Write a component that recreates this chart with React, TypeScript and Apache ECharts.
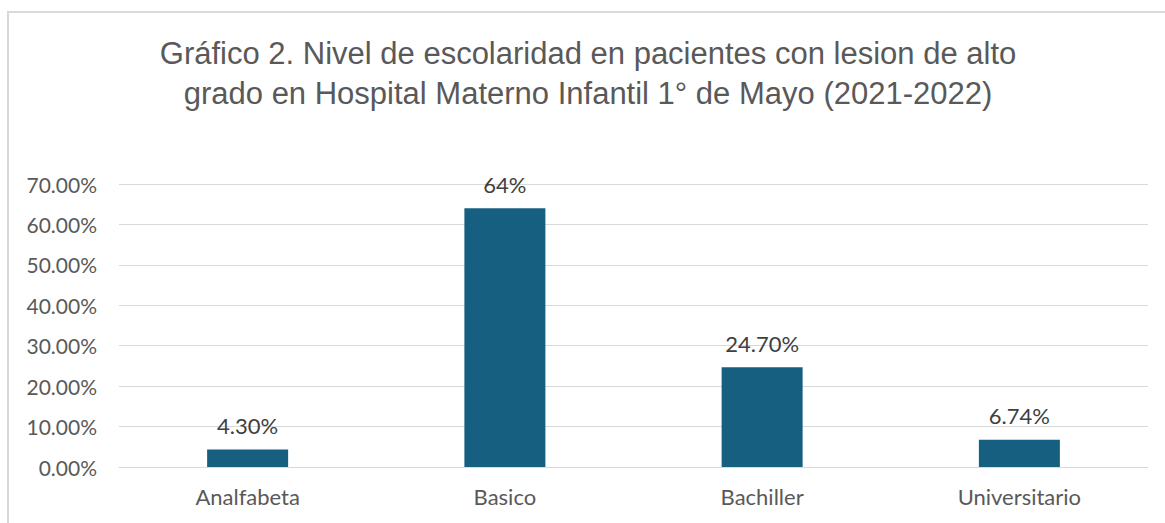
import React, { useEffect, useRef } from "react";
import * as echarts from "echarts";

const titleLines = [
  "Gráfico 2. Nivel de escolaridad en pacientes con lesion de alto",
  "grado en Hospital Materno Infantil 1° de Mayo (2021-2022)",
];
const categories = ["Analfabeta", "Basico", "Bachiller", "Universitario"];
const values = [4.3, 64, 24.7, 6.74];
const valueLabels = ["4.30%", "64%", "24.70%", "6.74%"];

export default function App() {
  const ref = useRef<HTMLDivElement>(null);
  useEffect(() => {
    if (!ref.current) return;
    const chart = echarts.init(ref.current, null, { renderer: "svg" });
    chart.setOption({
      animation: false,
      backgroundColor: "#ffffff",
      title: {
        text: titleLines.join("\n"),
        left: 583,
        top: 28,
        textAlign: "center",
        textStyle: {
          fontFamily: "Liberation Sans, Arial, sans-serif",
          fontSize: 31,
          fontWeight: "normal",
          color: "#595959",
          lineHeight: 40,
        },
      },
      graphic: [
        {
          type: "rect",
          shape: { x: 8, y: 12, width: 1200, height: 560 },
          style: { fill: "none", stroke: "#d9d9d9", lineWidth: 2 },
          silent: true,
        },
      ],
      grid: { left: 119, right: 17, top: 184, bottom: 56 },
      xAxis: {
        type: "category",
        data: categories,
        axisLine: { show: true, lineStyle: { color: "#d9d9d9", width: 1 } },
        axisTick: { show: false },
        axisLabel: {
          color: "#595959",
          fontFamily: "Lato, Carlito, Calibri, sans-serif",
          fontSize: 22,
          margin: 18,
        },
      },
      yAxis: {
        type: "value",
        min: 0,
        max: 70,
        interval: 10,
        axisLine: { show: false },
        axisTick: { show: false },
        splitLine: { lineStyle: { color: "#d9d9d9", width: 1 } },
        axisLabel: {
          color: "#595959",
          fontFamily: "Lato, Carlito, Calibri, sans-serif",
          fontSize: 21,
          margin: 22,
          formatter: (v: number) => v.toFixed(2) + "%",
        },
      },
      series: [
        {
          type: "bar",
          data: values,
          barWidth: 81,
          itemStyle: { color: "#175F80" },
          label: {
            show: true,
            position: "top",
            distance: 13,
            color: "#404040",
            fontFamily: "Lato, Carlito, Calibri, sans-serif",
            fontSize: 22,
            formatter: (p: any) => valueLabels[p.dataIndex],
          },
        },
      ],
    });
    return () => chart.dispose();
  }, []);
  return (
    <div
      ref={ref}
      style={{ position: "fixed", left: 0, top: 0, width: 1165, height: 523 }}
    />
  );
}
